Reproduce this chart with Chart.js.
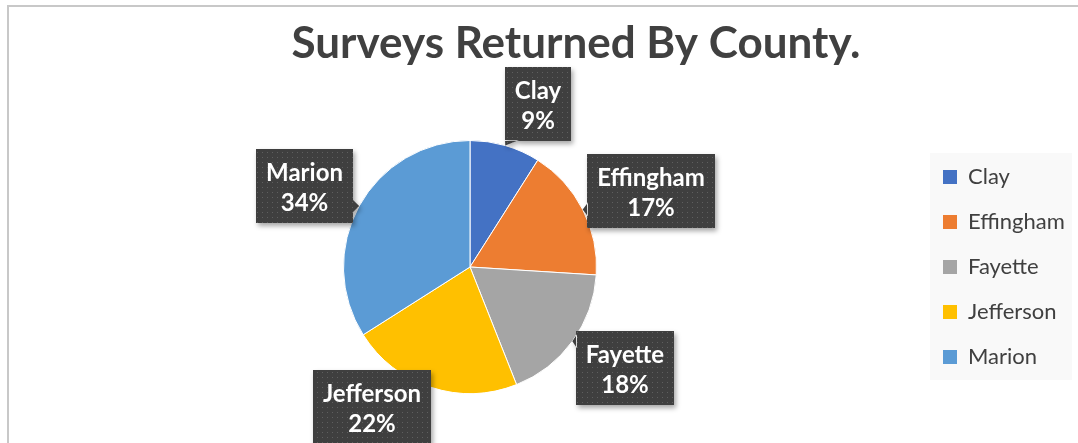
<!DOCTYPE html>
<html>
<head>
<meta charset="utf-8">
<script src="https://cdn.jsdelivr.net/npm/chart.js@4.4.0/dist/chart.umd.min.js"></script>
<style>
  html, body { margin: 0; padding: 0; background: #fff; }
  #wrap { width: 1078px; height: 443px; }
</style>
</head>
<body>
<div id="wrap"><canvas id="surveyChart" width="1078" height="443"></canvas></div>
<script>
// data
const chartTitle = 'Surveys Returned By County.';
const counties = ['Clay', 'Effingham', 'Fayette', 'Jefferson', 'Marion'];
const surveysReturned = [9, 17, 18, 22, 34];
const sliceColors = ['#4472C4', '#ED7D31', '#A5A5A5', '#FFC000', '#5B9BD5'];

// callout boxes: nudge from the automatic spot just outside the pie
const labelNudge = [[20, 1], [3, 15], [3, -9], [-42, -31], [-2, 9]];

const textColor = '#404040';
const legendFont = { family: 'Lato', size: 22 };
const legendPad = 23;
const legendLeft = 920;

// work out right padding so the legend sits where excel put it
const mctx = document.createElement('canvas').getContext('2d');
mctx.font = legendFont.size + 'px ' + legendFont.family;
const widest = Math.max(...counties.map(c => mctx.measureText(c).width));
const legendWidth = legendPad + 14 + legendFont.size / 2 + widest + 10;
const rightPad = 1078 - legendLeft - legendWidth;

// dotted fill used by the callouts
const pc = document.createElement('canvas');
pc.width = pc.height = 5;
const pctx = pc.getContext('2d');
pctx.fillStyle = '#3f3f3f';
pctx.fillRect(0, 0, 5, 5);
pctx.fillStyle = '#5f5f5f';
pctx.fillRect(2, 2, 1, 1);

const framePlugin = {
  id: 'frame',
  beforeDraw(chart) {
    const ctx = chart.ctx;
    ctx.save();
    // outer border (top + left only are visible)
    ctx.fillStyle = '#c8c8c8';
    ctx.fillRect(7, 5, chart.width - 7, 2);
    ctx.fillRect(7, 5, 2, chart.height - 5);
    // legend panel
    const hb = chart.legend.legendHitBoxes;
    if (hb && hb.length) {
      const last = hb[hb.length - 1];
      const top = hb[0].top - 13;
      const left = hb[0].left - 13;
      const right = Math.min(chart.legend.right, 1072);
      ctx.fillStyle = '#f9f9f9';
      ctx.fillRect(left, top, right - left, last.top + last.height + 12 - top);
    }
    // title
    ctx.fillStyle = textColor;
    ctx.font = 'bold 44px Lato';
    ctx.textAlign = 'center';
    ctx.textBaseline = 'alphabetic';
    ctx.fillText(chartTitle, 576, 58);
    ctx.restore();
  }
};

const calloutPlugin = {
  id: 'callouts',
  afterDatasetsDraw(chart) {
    const ctx = chart.ctx;
    const meta = chart.getDatasetMeta(0);
    const values = chart.data.datasets[0].data;
    const total = values.reduce((a, b) => a + b, 0);
    const pattern = ctx.createPattern(pc, 'repeat');
    ctx.save();
    ctx.font = 'bold 24px Lato';
    meta.data.forEach((arc, i) => {
      const p = arc.getProps(['x', 'y', 'startAngle', 'endAngle', 'outerRadius'], true);
      const mid = (p.startAngle + p.endAngle) / 2;
      const ux = Math.cos(mid), uy = Math.sin(mid);
      const tipX = p.x + ux * p.outerRadius;
      const tipY = p.y + uy * p.outerRadius;
      const line1 = chart.data.labels[i];
      const line2 = Math.round(values[i] / total * 100) + '%';
      const w = Math.round(Math.max(ctx.measureText(line1).width, ctx.measureText(line2).width) + 20);
      const h = 74;
      const d = p.outerRadius + Math.abs(ux) * w / 2 + Math.abs(uy) * h / 2;
      const left = Math.round(p.x + ux * d + labelNudge[i][0] - w / 2);
      const top = Math.round(p.y + uy * d + labelNudge[i][1] - h / 2);
      const right = left + w, bottom = top + h;

      // tail base on the box side facing the slice
      const outX = Math.max(left - tipX, tipX - right, 0);
      const outY = Math.max(top - tipY, tipY - bottom, 0);
      let b1, b2;
      if (outX >= outY) {
        const ex = tipX < left ? left + 1 : right - 1;
        const by = Math.min(Math.max(tipY - 7, top), bottom - 14);
        b1 = [ex, by]; b2 = [ex, by + 14];
      } else {
        const ey = tipY < top ? top + 1 : bottom - 1;
        const bx = Math.min(Math.max(tipX - 7, left), right - 14);
        b1 = [bx, ey]; b2 = [bx + 14, ey];
      }

      ctx.beginPath();
      ctx.rect(left, top, w, h);
      ctx.moveTo(b1[0], b1[1]);
      ctx.lineTo(tipX, tipY);
      ctx.lineTo(b2[0], b2[1]);
      ctx.closePath();
      ctx.shadowColor = 'rgba(0,0,0,0.35)';
      ctx.shadowBlur = 5;
      ctx.shadowOffsetX = 2;
      ctx.shadowOffsetY = 3;
      ctx.fillStyle = pattern;
      ctx.fill();
      ctx.shadowColor = 'transparent';

      ctx.fillStyle = '#ffffff';
      ctx.textAlign = 'center';
      ctx.textBaseline = 'alphabetic';
      ctx.fillText(line1, left + w / 2, top + 32);
      ctx.fillText(line2, left + w / 2, top + 62);
    });
    ctx.restore();
  }
};

new Chart(document.getElementById('surveyChart'), {
  type: 'pie',
  data: {
    labels: counties,
    datasets: [{
      data: surveysReturned,
      backgroundColor: sliceColors,
      borderColor: '#ffffff',
      borderWidth: 1
    }]
  },
  options: {
    responsive: false,
    animation: false,
    layout: { padding: { left: 20, right: rightPad, top: 140, bottom: 49 } },
    plugins: {
      title: { display: false },
      tooltip: { enabled: false },
      legend: {
        position: 'right',
        labels: {
          boxWidth: 14,
          boxHeight: 14,
          padding: legendPad,
          color: textColor,
          font: legendFont,
          generateLabels(chart) {
            return Chart.overrides.pie.plugins.legend.labels.generateLabels(chart)
              .map(l => Object.assign(l, { lineWidth: 0 }));
          }
        }
      }
    }
  },
  plugins: [framePlugin, calloutPlugin]
});
</script>
</body>
</html>
